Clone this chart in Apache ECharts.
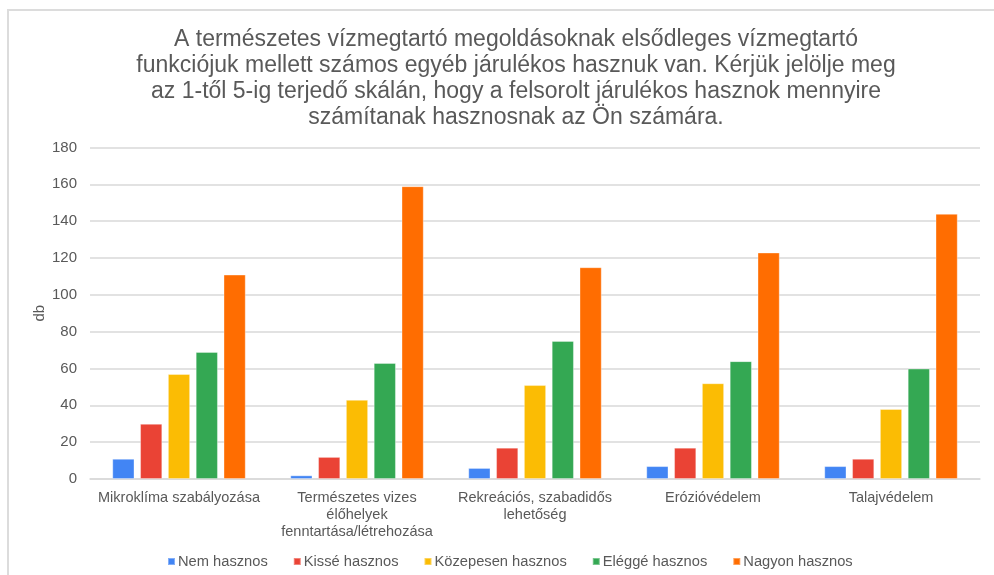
<!DOCTYPE html>
<html>
<head>
<meta charset="utf-8">
<script src="https://cdn.jsdelivr.net/npm/echarts@6/dist/echarts.min.js"></script>
<style>
  html, body { margin: 0; padding: 0; background: #fff; }
  #frame {
    position: absolute; left: 7px; top: 9px; right: 0; bottom: 0;
    border-top: 2px solid #dcdcdc; border-left: 2px solid #dcdcdc;
  }
  #chart { position: absolute; left: 0; top: 0; width: 994px; height: 575px; }
</style>
</head>
<body>
<div id="frame"></div>
<div id="chart"></div>
<script>
var categories = [
  "Mikroklíma szabályozása",
  "Természetes vizes\nélőhelyek\nfenntartása/létrehozása",
  "Rekreációs, szabadidős\nlehetőség",
  "Erózióvédelem",
  "Talajvédelem"
];
var seriesNames = ["Nem hasznos", "Kissé hasznos", "Közepesen hasznos", "Eléggé hasznos", "Nagyon hasznos"];
var nemHasznos = [11, 2, 6, 7, 7];
var kisseHasznos = [30, 12, 17, 17, 11];
var kozepesenHasznos = [57, 43, 51, 52, 38];
var elleggeHasznos = [69, 63, 75, 64, 60];
var nagyonHasznos = [111, 159, 115, 123, 144];
var colors = ["#4285F4", "#EA4335", "#FBBC04", "#34A853", "#FF6D01"];

var values = [nemHasznos, kisseHasznos, kozepesenHasznos, elleggeHasznos, nagyonHasznos];
var textColor = "#595959";
var font = "Arial, 'Liberation Sans', sans-serif";

var myChart = echarts.init(document.getElementById("chart"));
var series = seriesNames.map(function (name, i) {
  return {
    name: name,
    type: "bar",
    data: values[i],
    barGap: "25%",
    barCategoryGap: "25%",
    itemStyle: {
      color: colors[i],
      borderColor: "rgba(255,255,255,0.35)",
      borderWidth: 1
    }
  };
});

var opt = {
  animation: false,
  textStyle: { fontFamily: font },
  title: {
    text: "A természetes vízmegtartó megoldásoknak elsődleges vízmegtartó\nfunkciójuk mellett számos egyéb járulékos hasznuk van. Kérjük jelölje meg\naz 1-től 5-ig terjedő skálán, hogy a felsorolt járulékos hasznok mennyire\nszámítanak hasznosnak az Ön számára.",
    left: 511,
    textAlign: "center",
    top: 22,
    textStyle: {
      fontFamily: font,
      fontSize: 23,
      fontWeight: "normal",
      color: textColor,
      lineHeight: 26
    }
  },
  legend: {
    top: 554,
    left: 167,
    padding: 0,
    itemWidth: 7,
    itemHeight: 7,
    itemGap: 25,
    icon: "rect",
    textStyle: { fontFamily: font, fontSize: 14.7, color: textColor, padding: [0, 0, 0, -2] },
    data: seriesNames
  },
  grid: {
    left: 90,
    right: 14,
    top: 147.5,
    bottom: 96,
    containLabel: false
  },
  xAxis: {
    type: "category",
    data: categories,
    axisLine: { show: true, lineStyle: { color: "#d9d9d9", width: 1.5 } },
    axisTick: { show: false },
    axisLabel: {
      fontFamily: font,
      fontSize: 14.5,
      color: textColor,
      lineHeight: 17,
      margin: 10,
      interval: 0
    }
  },
  yAxis: {
    type: "value",
    min: 0,
    max: 180,
    interval: 20,
    name: "db",
    nameLocation: "middle",
    nameGap: 43,
    nameMoveOverlap: false,
    nameTextStyle: { fontFamily: font, fontSize: 15, color: textColor },
    axisLine: { show: false },
    axisTick: { show: false },
    axisLabel: { fontFamily: font, fontSize: 15, color: textColor, margin: 13 },
    splitLine: { lineStyle: { color: "#d9d9d9", width: 1.5 } }
  },
  series: series
};

myChart.setOption(opt);
</script>
</body>
</html>
